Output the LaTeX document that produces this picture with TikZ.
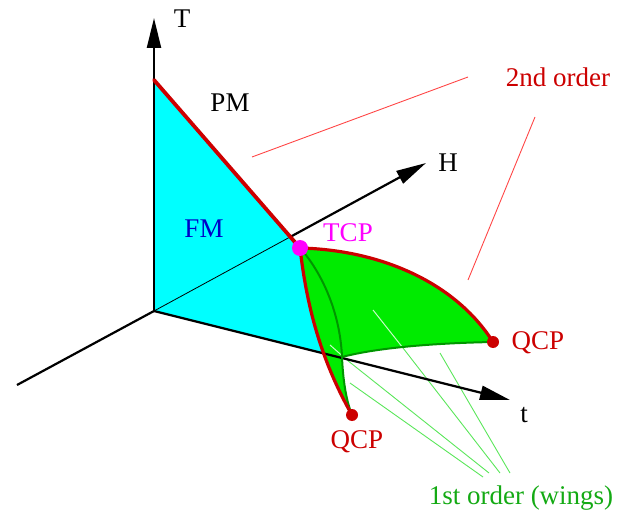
\documentclass[tikz,border=0pt]{standalone}
\usepackage{fontspec}
\setmainfont{Liberation Serif}
\usetikzlibrary{arrows.meta}
\definecolor{cyanF}{RGB}{0,255,255}
\definecolor{greenF}{RGB}{0,235,0}
\definecolor{darkred}{RGB}{204,0,0}
\definecolor{dgreen}{RGB}{0,150,0}
\definecolor{lgreen}{RGB}{90,230,90}
\definecolor{wgreen}{RGB}{200,252,200}
\definecolor{lred}{RGB}{255,70,70}
\definecolor{txtgreen}{RGB}{20,170,20}
\definecolor{fmblue}{RGB}{0,0,200}
\definecolor{tcpmag}{RGB}{255,0,255}
\begin{document}
\begin{tikzpicture}[x=1pt,y=-1pt,
  lbl/.style={font=\fontsize{27}{30}\selectfont, inner sep=0pt, anchor=base},
  axis/.style={line width=2.2pt, black},
  arr/.style={-{Triangle[length=30pt,width=14pt]}},
  redthick/.style={darkred, line width=3.8pt, line cap=round},
  redcurve/.style={darkred, line width=3.2pt, line cap=round},
  greenedge/.style={dgreen, line width=2pt},
  leadg/.style={lgreen, line width=0.9pt},
  leadw/.style={wgreen, line width=1pt},
  leadr/.style={lred, line width=0.9pt}]
\useasboundingbox (0,0) rectangle (626,510);
% coordinates
\coordinate (O) at (154,311);
\coordinate (Ttip) at (154,18);
\coordinate (Tint) at (154,80);
\coordinate (Hneg) at (17,385);
\coordinate (Htip) at (426,163);
\coordinate (ttip) at (510,400);
\coordinate (TCP) at (300,248);
\coordinate (QCPr) at (493,342);
\coordinate (QCPl) at (352,415);
\coordinate (M) at (342,357);
\coordinate (Hx) at (intersection of O--Htip and Tint--TCP);
% cyan FM sheet
\begin{scope}
  \clip (154,0) -- (O) -- (ttip) -- (626,0) -- cycle;
  \fill[cyanF] (O) -- (Tint) -- (TCP) .. controls (305,290) and (315,350) .. (QCPl) -- cycle;
\end{scope}
\draw[line width=0.8pt] (O) -- (Hx);
% green wings
\fill[greenF] (TCP) .. controls (380,250) and (455,282) .. (QCPr)
  .. controls (440,343) and (380,347) .. (M)
  .. controls (343,380) and (346,400) .. (QCPl)
  .. controls (315,350) and (305,290) .. (TCP) -- cycle;
% leader lines for 1st order
\coordinate (g1s) at (483,477); \coordinate (g1e) at (350,383);
\coordinate (g2s) at (489,473); \coordinate (g2e) at (347,360); \coordinate (g2w) at (330,345);
\coordinate (g3s) at (500,473); \coordinate (g3e) at (403,348); \coordinate (g3w) at (373,310);
\coordinate (g4s) at (510,473); \coordinate (g4e) at (440,353);
\draw[leadg] (g1s) -- (g1e);
\draw[leadg] (g2s) -- (g2e);
\draw[leadw] (g2e) -- (g2w);
\draw[leadg] (g3s) -- (g3e);
\draw[leadw] (g3e) -- (g3w);
\draw[leadg] (g4s) -- (g4e);
% axes
\draw[axis] (O) -- (Hneg);
\draw[axis, arr] (O) -- (Ttip);
\draw[axis, arr] (O) -- (ttip);
\draw[axis, arr] (Hx) -- (Htip);
% edges of the wings
\draw[greenedge] (TCP) .. controls (320,270) and (340,310) .. (M)
  .. controls (343,380) and (346,400) .. (QCPl);
\draw[greenedge] (QCPr) .. controls (440,343) and (380,347) .. (M);
\draw[redthick] (Tint) -- (TCP);
\draw[redcurve] (TCP) .. controls (380,250) and (455,282) .. (QCPr);
\draw[redcurve] (TCP) .. controls (305,290) and (315,350) .. (QCPl);
% leader lines for 2nd order
\coordinate (r1a) at (252,157); \coordinate (r1b) at (468,77);
\coordinate (r2a) at (535,117); \coordinate (r2b) at (468,280);
\draw[leadr] (r1a) -- (r1b);
\draw[leadr] (r2a) -- (r2b);
% points
\fill[tcpmag] (TCP) circle (8pt);
\fill[darkred] (QCPr) circle (6pt);
\fill[darkred] (QCPl) circle (6pt);
% labels
\node[lbl] (lT) at (182,28) {T};
\node[lbl] (lPM) at (230,112) {PM};
\node[lbl, text=fmblue] (lFM) at (204,238) {FM};
\node[lbl] (lH) at (448,172) {H};
\node[lbl, text=tcpmag] (lTCP) at (348,242) {TCP};
\node[lbl, text=darkred] (lQr) at (538,349) {QCP};
\node[lbl, text=darkred] (lQl) at (357,448) {QCP};
\node[lbl] (lt) at (524,422) {t};
\node[lbl, text=darkred] (l2nd) at (558,87) {2nd order};
\node[lbl, text=txtgreen] (l1st) at (521,504) {1st order (wings)};
\end{tikzpicture}
\end{document}
